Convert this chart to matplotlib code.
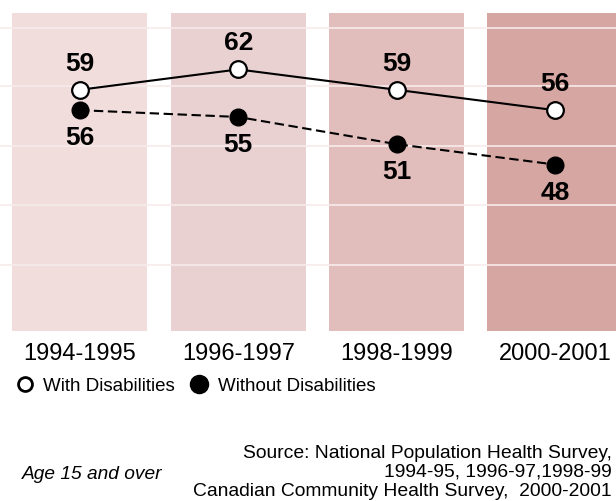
import numpy as np
import matplotlib.pyplot as plt
from matplotlib.lines import Line2D

plt.rcParams['font.family'] = ['Liberation Sans', 'DejaVu Sans']

years = ['1994-1995', '1996-1997', '1998-1999', '2000-2001']
with_dis = [59, 62, 59, 56]
without_dis = [56, 55, 51, 48]
band_colors = ['#f0dddc', '#e9d1d1', '#e1bdbb', '#d6a6a3']
grid_vals = [33.2, 42.0, 50.8, 59.5, 68.1]

fig = plt.figure(figsize=(6.16, 5.02), dpi=100)
ax = fig.add_axes([0, 0.3386, 1, 0.6335])

x = np.arange(len(years))
w = 0.853
# shaded column behind each survey period
for i, c in zip(x, band_colors):
    ax.axvspan(i - w / 2, i + w / 2, color=c, lw=0, zorder=1)

ax.plot(x, with_dis, color='black', lw=1.5, marker='o', ms=12,
        mfc='white', mec='black', mew=1.6, zorder=3)
ax.plot(x, without_dis, color='black', lw=1.5, ls=(0, (4.5, 2.2)), marker='o',
        ms=12, mfc='black', mec='black', zorder=3)

for xi, v in zip(x, with_dis):
    ax.annotate(str(v), (xi, v), xytext=(0, 19.5), textcoords='offset points',
                ha='center', va='center', fontsize=19, fontweight='bold')
for xi, v in zip(x, without_dis):
    ax.annotate(str(v), (xi, v), xytext=(0, -19.5), textcoords='offset points',
                ha='center', va='center', fontsize=19, fontweight='bold')

ax.set_xlim(-0.505, 3.386)
ax.set_ylim(23.5, 70.3)
ax.set_yticks(grid_vals)
ax.set_axisbelow('line')
ax.yaxis.grid(True, color='#f7ebeb', lw=1.2)
ax.tick_params(axis='y', left=False, labelleft=False)
ax.set_xticks(x)
ax.set_xticklabels(years, fontsize=17)
ax.tick_params(axis='x', length=0, pad=7.8)
for s in ax.spines.values():
    s.set_visible(False)

handles = [
    Line2D([], [], ls='none', marker='o', ms=10, mfc='white', mec='black', mew=2),
    Line2D([], [], ls='none', marker='o', ms=13, mfc='black', mec='black'),
]
fig.legend(handles, ['With Disabilities', 'Without Disabilities'], ncol=2,
           loc='center left', bbox_to_anchor=(0.0248, 0.230), frameon=False,
           fontsize=13.5, handlelength=1.0, handletextpad=0.5,
           columnspacing=0.79, borderpad=0, borderaxespad=0)

fig.text(0.035, 0.054, 'Age 15 and over', fontsize=13.8, style='italic',
         ha='left', va='center')
fig.text(0.9935, 0.0588,
         'Source: National Population Health Survey,\n'
         '1994-95, 1996-97,1998-99\n'
         'Canadian Community Health Survey,  2000-2001',
         fontsize=13.9, ha='right', va='center', multialignment='right',
         linespacing=1.15)

fig.savefig('out.png', dpi=100)
